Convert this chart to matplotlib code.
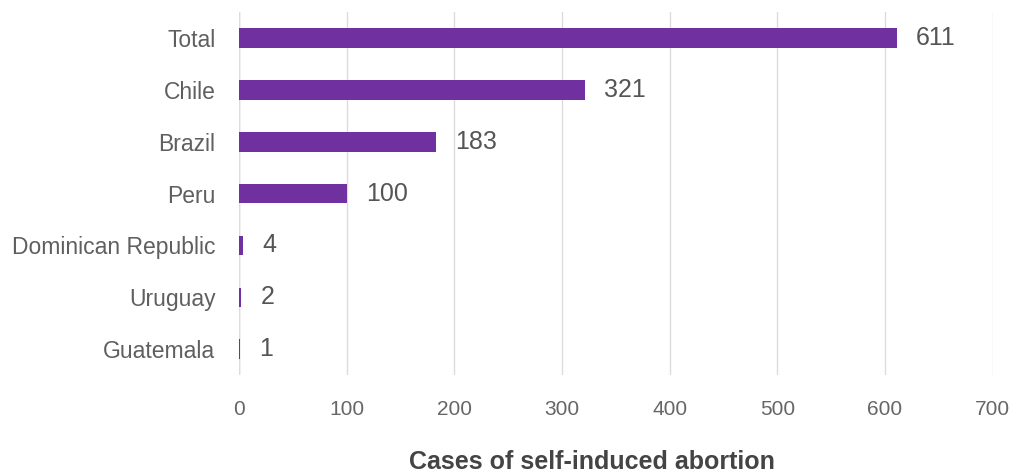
import matplotlib as mpl
mpl.use('Agg')
import matplotlib.pyplot as plt

countries = ["Total", "Chile", "Brazil", "Peru", "Dominican Republic", "Uruguay", "Guatemala"]
cases = [611, 321, 183, 100, 4, 2, 1]
xticks = [0, 100, 200, 300, 400, 500, 600, 700]

plt.rcParams['font.family'] = ['Liberation Sans', 'DejaVu Sans']

fig = plt.figure(figsize=(10.35, 4.75), dpi=100)
ax = fig.add_axes([0.231, 0.21, 0.728, 0.765])

ypos = list(range(len(countries)))
ax.barh(ypos, cases, height=0.38, color="#7030A0", zorder=3)
for y, v in zip(ypos, cases):
    ax.text(v + 18, y, str(v), va="center", ha="left", fontsize=18, color="#555555")

ax.set_xlim(0, 700)
ax.set_ylim(6.5, -0.5)
ax.set_yticks(ypos)
ax.set_yticklabels(countries, fontsize=16.5, color="#5f5f5f")
ax.set_xticks(xticks)
ax.set_xticklabels([str(t) for t in xticks], fontsize=15, color="#666666")
ax.tick_params(axis="both", length=0)
ax.tick_params(axis="x", pad=18)
ax.tick_params(axis="y", pad=17)
ax.grid(axis="x", color="#dcdcdc", linewidth=1, zorder=0)
for s in ax.spines.values():
    s.set_visible(False)
ax.axvline(0, color="#cccccc", linewidth=1, zorder=1)

ax.set_xlabel("Cases of self-induced abortion", fontsize=18, color="#444444",
              fontweight="bold")
ax.xaxis.set_label_coords(0.468, -0.205)

fig.savefig("out.png", dpi=100)
